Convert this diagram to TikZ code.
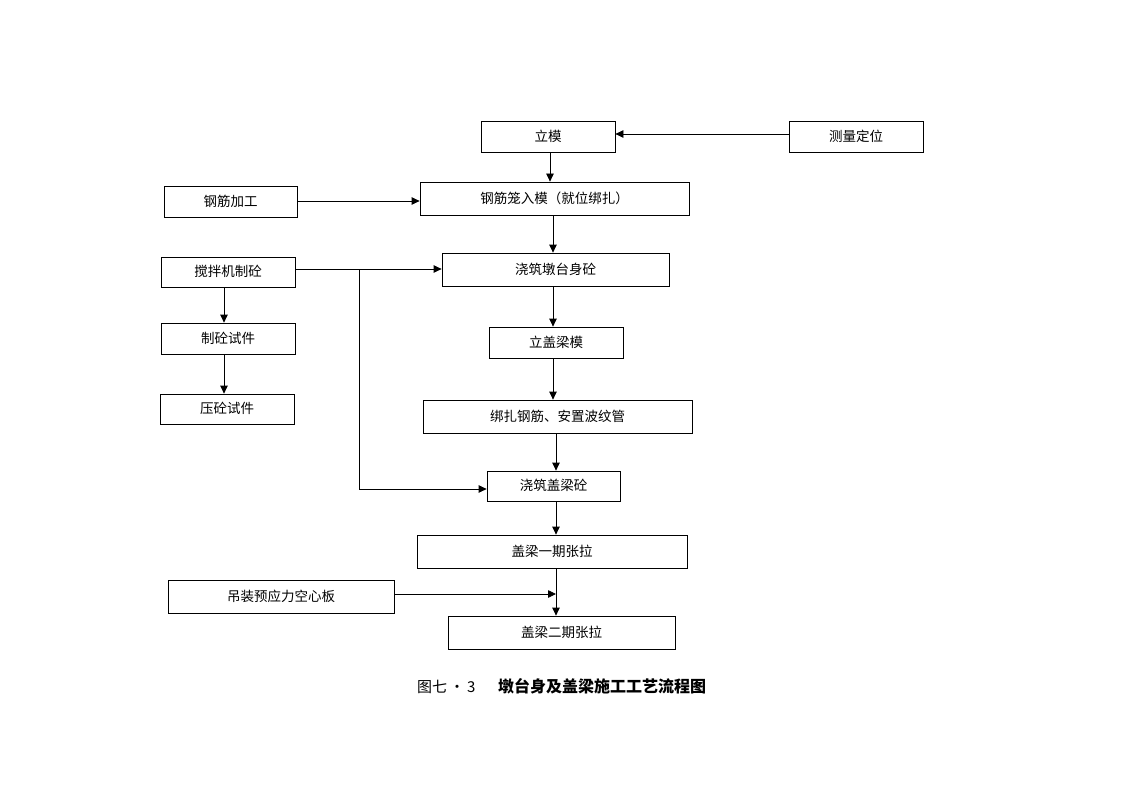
\documentclass[tikz,border=0pt]{standalone}
\usepackage{fontspec}
\setmainfont{Liberation Serif}
\newfontfamily\cjk{Noto Sans CJK SC}
\usetikzlibrary{arrows.meta}
\begin{document}
\begin{tikzpicture}[x=1pt,y=-1pt,
  box/.style={draw,line width=0.8pt,font=\cjk\fontsize{13.5}{15}\selectfont},
  arr/.style={line width=0.8pt,-{Triangle[length=8pt,width=7.5pt]}},
  ln/.style={line width=0.8pt}]
\useasboundingbox (0,0) rectangle (1123,794);
\newcommand\bx[6]{\node[box,minimum width={#4-#2},minimum height={#5-#3},inner sep=0pt] (#1) at ({(#2+#4)/2},{(#3+#5)/2}) {\raisebox{1.5pt}{#6}};}
\bx{limo}{481}{121}{615}{152}{立模}
\bx{celiang}{789}{121}{923}{152}{测量定位}
\bx{gjjg}{164}{186}{297}{217}{钢筋加工}
\bx{gjl}{420}{182}{689}{215}{钢筋笼入模（就位绑扎）}
\bx{jbj}{161}{257}{295}{287}{搅拌机制砼}
\bx{jzdt}{442}{253}{669}{286}{浇筑墩台身砼}
\bx{zsj}{161}{323}{295}{354}{制砼试件}
\bx{lglm}{489}{327}{623}{358}{立盖梁模}
\bx{ysj}{160}{394}{294}{424}{压砼试件}
\bx{bzgj}{423}{400}{692}{433}{绑扎钢筋、安置波纹管}
\bx{jzgl}{487}{471}{620}{501}{浇筑盖梁砼}
\bx{gl1}{417}{535}{687}{568}{盖梁一期张拉}
\bx{dz}{168}{580}{394}{613}{吊装预应力空心板}
\bx{gl2}{448}{616}{675}{649}{盖梁二期张拉}
\coordinate (br1) at (359,269);
\coordinate (br2) at (359,489);
\coordinate (jn) at (556,594);
% connectors
\draw[arr] (celiang.west |- 0,134) -- (limo.east |- 0,134);
\draw[arr] (limo.south -| 550,0) -- (gjl.north -| 550,0);
\draw[arr] (gjjg.east |- 0,201) -- (gjl.west |- 0,201);
\draw[arr] (gjl.south -| 553,0) -- (jzdt.north -| 553,0);
\draw[arr] (jbj.east |- 0,269) -- (jzdt.west |- 0,269);
\draw[arr] (br1) -- (br2) -- (jzgl.west |- br2);
\draw[arr] (jbj.south -| 224,0) -- (zsj.north -| 224,0);
\draw[arr] (zsj.south -| 224,0) -- (ysj.north -| 224,0);
\draw[arr] (jzdt.south -| 553,0) -- (lglm.north -| 553,0);
\draw[arr] (lglm.south -| 553,0) -- (bzgj.north -| 553,0);
\draw[arr] (bzgj.south -| 556,0) -- (jzgl.north -| 556,0);
\draw[arr] (jzgl.south -| 556,0) -- (gl1.north -| 556,0);
\draw[arr] (gl1.south -| 556,0) -- (gl2.north -| 556,0);
\draw[arr] (dz.east |- jn) -- (jn);
% caption
\node[anchor=base west,inner sep=0pt,font=\cjk\fontsize{15}{17}\selectfont] (cap1) at (417,692) {图七\,·\,3};
\node[anchor=base west,inner sep=0pt,font=\cjk\bfseries\fontsize{16}{18}\selectfont] (cap2) at (498,692) {墩台身及盖梁施工工艺流程图};
\end{tikzpicture}
\end{document}
